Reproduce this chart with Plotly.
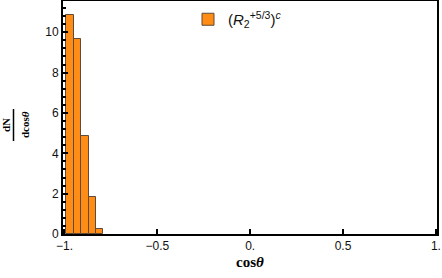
import plotly.graph_objects as go

# histogram bins (cos theta) and heights dN/dcos(theta)
bin_left = [-0.99, -0.95, -0.91, -0.87, -0.83]
bin_width = 0.04
heights = [10.88, 9.65, 4.87, 1.82, 0.25]
series_name = "(<i>R</i><sub>2</sub><sup>+5/3</sup>)<sup><i>c</i></sup>"

x_ticks = [-1, -0.5, 0, 0.5, 1]
x_ticktext = ["\u22121.", "\u22120.5", "0.", "0.5", "1."]
y_ticks = [0, 2, 4, 6, 8, 10]

centers = [b + bin_width / 2 for b in bin_left]

W, H = 442, 278
l, r, t, b = 63, 5, 1, 44
pw, ph = W - l - r, H - t - b

def px_x(px):
    return (px - l) / pw

def px_y(py):
    return 1 - (py - t) / ph

fig = go.Figure()
fig.add_trace(go.Bar(x=centers, y=heights, width=bin_width,
                     name=series_name,
                     marker=dict(color='rgb(255,140,20)',
                                 line=dict(color='rgb(95,75,55)', width=1)),
                     showlegend=True))

fig.update_layout(width=W, height=H,
                  margin=dict(l=l, r=r, t=t, b=b, autoexpand=False),
                  plot_bgcolor='white', paper_bgcolor='white',
                  font=dict(family='Liberation Sans', size=12, color='#111'),
                  bargap=0,
                  showlegend=True,
                  legend=dict(x=px_x(188), y=px_y(3), xanchor='left', yanchor='top',
                              bgcolor='rgba(0,0,0,0)', font=dict(size=15, color='#111'),
                              itemwidth=30, tracegroupgap=0))

fig.update_xaxes(range=[-1.008, 1.006], tickvals=x_ticks, ticktext=x_ticktext,
                 ticks='inside', ticklen=5, tickwidth=1.5, tickcolor='black',
                 showline=True, linewidth=2, linecolor='black', mirror=True,
                 showgrid=False, zeroline=False, automargin=False,
                 title=dict(text='<b>cos<i>θ</i></b>', standoff=4,
                            font=dict(family='Liberation Serif', size=15, color='black')))
fig.update_yaxes(range=[0, 11.55], tickvals=y_ticks,
                 ticks='inside', ticklen=5, tickwidth=1.5, tickcolor='black',
                 minor=dict(dtick=0.4, ticks='inside', ticklen=2.5, tickcolor='black'),
                 showline=True, linewidth=2, linecolor='black', mirror=True,
                 showgrid=False, zeroline=False, automargin=False)

# y label as a rotated fraction
fig.add_annotation(x=px_x(6), y=px_y(125), xref='paper', yref='paper', text='<b>dN</b>',
                   showarrow=False, textangle=-90, xanchor='center', yanchor='middle',
                   font=dict(family='Liberation Serif', size=11, color='black'))
fig.add_annotation(x=px_x(25), y=px_y(125), xref='paper', yref='paper', text='<b>dcos<i>θ</i></b>',
                   showarrow=False, textangle=-90, xanchor='center', yanchor='middle',
                   font=dict(family='Liberation Serif', size=11, color='black'))
fig.add_shape(type='line', xref='paper', yref='paper',
              x0=px_x(13.5), x1=px_x(13.5), y0=px_y(109), y1=px_y(141),
              line=dict(color='black', width=1.5))

fig.write_html("out.html", config={'displayModeBar': False},
               post_script="document.body.style.margin='0';")
